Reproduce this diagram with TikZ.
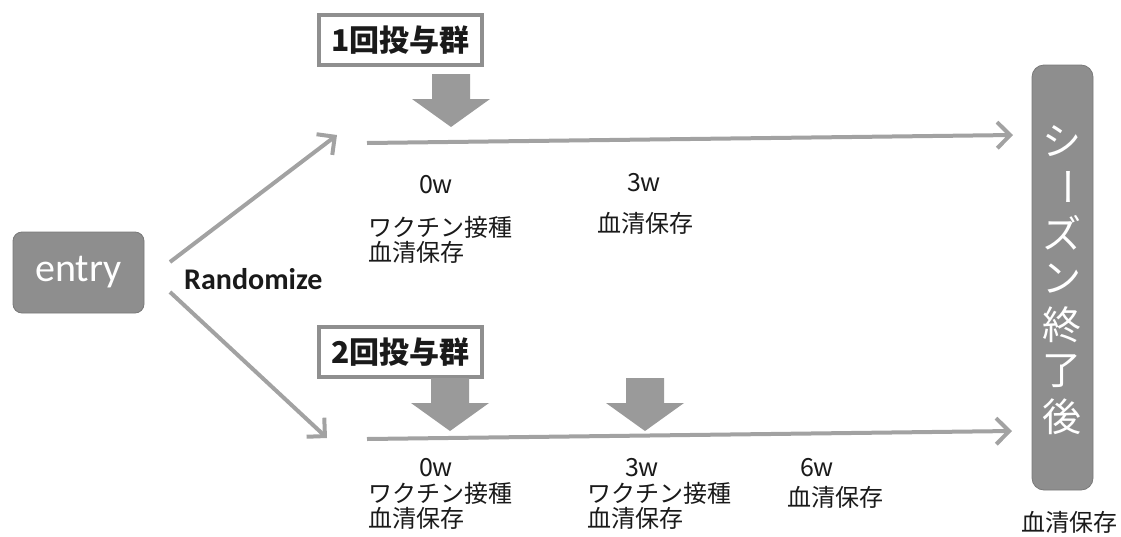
\documentclass[tikz,border=0pt]{standalone}
\usepackage{fontspec}
\newfontfamily\jp{Noto Sans CJK JP}
\newfontfamily\calfont{Carlito}
\usetikzlibrary{arrows.meta}
\definecolor{boxgray}{HTML}{8E8E8E}
\definecolor{linegray}{HTML}{A2A2A2}
\definecolor{arrgray}{HTML}{9A9A9A}
\definecolor{frame}{HTML}{8F8F8F}
\definecolor{ink}{HTML}{1A1A1A}
\newcommand\blockarrow[1]{\fill[arrgray] (#1) ++(-19,0) -- ++(38,0) -- ++(0,25) -- ++(20,0) -- ++(-39,28) -- ++(-39,-28) -- ++(20,0) -- cycle;}
\begin{document}
\begin{tikzpicture}[x=1pt,y=-1pt,
  graybox/.style={rounded corners=9pt, fill=boxgray, draw=boxgray!85!black, line width=0.8pt, inner sep=0pt},
  tl/.style={draw=linegray, line width=4pt, -{Straight Barb[length=13pt,width=26pt]}},
  lab/.style={font=\jp\fontsize{24}{26}\selectfont, inner sep=0pt, text=ink},
  week/.style={font=\jp\fontsize{25}{26}\selectfont, inner sep=0pt, text=ink},
  group/.style={draw=frame, line width=4pt, fill=white, minimum width=163pt, minimum height=50pt, inner sep=0pt, text=ink, font=\jp\bfseries\fontsize{30}{32}\selectfont},
  vch/.style={font=\jp\fontsize{39}{40}\selectfont, text=white, inner sep=0pt}
]
\useasboundingbox (0,0) rectangle (1121,536);

% entry and randomize
\node[graybox, minimum width=131pt, minimum height=81pt, text=white, font=\calfont\fontsize{40}{40}\selectfont] (entry) at (78.5,272.5) {entry};
\node[anchor=west, inner sep=0pt, text=ink, font=\calfont\bfseries\fontsize{30}{30}\selectfont] (rand) at (184,279) {Randomize};

% diagonal connectors
\coordinate (d1s) at (170,262);
\coordinate (d1e) at (337,135);
\coordinate (d2s) at (170,292);
\coordinate (d2e) at (327,438);
\draw[tl] (d1s) -- (d1e);
\draw[tl] (d2s) -- (d2e);

% end box
\node[graybox, rounded corners=12pt, minimum width=61pt, minimum height=425pt] (season) at (1062.5,277.5) {};
\node[vch] (s1) at (1062,141) {シ};
\node[vch, rotate=-90] (s2) at (1062,187) {ー};
\node[vch] (s3) at (1062,233) {ズ};
\node[vch] (s4) at (1062,279) {ン};
\node[vch] (s5) at (1062,325) {終};
\node[vch] (s6) at (1062,371) {了};
\node[vch] (s7) at (1062,417) {後};

% timelines
\coordinate (l1s) at (367,143);
\coordinate (l1e) at (1013,135);
\coordinate (l2s) at (367,439);
\coordinate (l2e) at (1012,431);
\draw[tl] (l1s) -- (l1e);
\draw[tl] (l2s) -- (l2e);

% group boxes
\node[group] (g1) at (400.5,40) {1回投与群};
\node[group] (g2) at (400.5,352) {2回投与群};

% block arrows
\coordinate (a1) at (451,74);
\coordinate (a2) at (450,378);
\coordinate (a3) at (645,378);
\blockarrow{a1}
\blockarrow{a2}
\blockarrow{a3}

% upper labels
\node[week] (u0) at (436,185) {0w};
\node[lab, anchor=west] (u0a) at (368,227) {ワクチン接種};
\node[lab, anchor=west] (u0b) at (368,252) {血清保存};
\node[week] (u3) at (644,183) {3w};
\node[lab, anchor=west] (u3a) at (597,223) {血清保存};

% lower labels
\node[week] (w0) at (436,468) {0w};
\node[lab, anchor=west] (w0a) at (368,493) {ワクチン接種};
\node[lab, anchor=west] (w0b) at (368,518) {血清保存};
\node[week] (w3) at (642,468) {3w};
\node[lab, anchor=west] (w3a) at (587,493) {ワクチン接種};
\node[lab, anchor=west] (w3b) at (587,518) {血清保存};
\node[week] (w6) at (817,468) {6w};
\node[lab, anchor=west] (w6a) at (787,497) {血清保存};

\node[lab, anchor=west] (fin) at (1021,522) {血清保存};
\end{tikzpicture}
\end{document}
